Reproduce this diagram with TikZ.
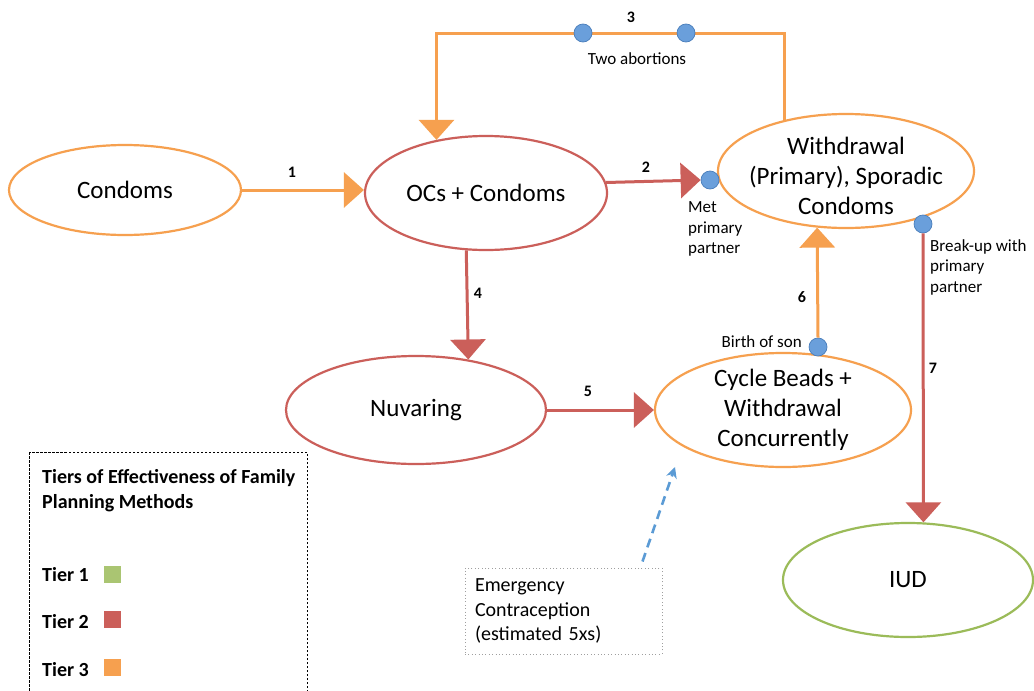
\documentclass[tikz,border=0pt]{standalone}
\usepackage{fontspec}
\setmainfont{Carlito}
\usetikzlibrary{shapes.geometric,arrows.meta,calc}
\definecolor{tor}{HTML}{F6A04F}
\definecolor{tred}{HTML}{CB5F5A}
\definecolor{tgreen}{HTML}{9BBB59}
\definecolor{dotblue}{HTML}{6A9FDB}
\definecolor{dotedge}{HTML}{4A7EBB}
\definecolor{ecblue}{HTML}{5B9BD5}
\begin{document}
\begin{tikzpicture}[x=1pt,y=-1pt,
  meth/.style={ellipse, draw, line width=2.2pt, fill=white, inner sep=0pt},
  mtext/.style={align=center, font=\fontsize{25}{30}\selectfont},
  dotnode/.style={circle, fill=dotblue, draw=dotedge, line width=0.7pt, minimum size=18pt, inner sep=0pt},
  flow/.style={line width=3pt, -{Triangle[width=35pt,length=20pt]}},
  oflow/.style={flow, draw=tor, color=tor},
  rflow/.style={flow, draw=tred, color=tred},
  num/.style={font=\fontsize{16}{19}\selectfont\bfseries, inner sep=0pt},
  small/.style={font=\fontsize{17}{20.5}\selectfont, inner sep=0pt, align=left},
  legtxt/.style={font=\fontsize{20}{25}\selectfont\bfseries, inner sep=0pt, align=left, anchor=west},
  legsq/.style={minimum size=17pt, inner sep=0pt}
]
\fill[white] (0,0) rectangle (1034,691);
\useasboundingbox (0,0) rectangle (1034,691);

% method nodes
\node[meth, draw=tor, minimum width=232pt, minimum height=90pt,
  label={[mtext]center:Condoms}] (condoms) at (125,190) {};
\node[meth, draw=tred, minimum width=242pt, minimum height=114pt,
  label={[mtext]center:OCs + Condoms}] (ocs) at (486,193) {};
\node[meth, draw=tor, minimum width=256pt, minimum height=114pt,
  label={[mtext, yshift=-5pt]center:Withdrawal\\(Primary), Sporadic\\Condoms}] (wd) at (846,171) {};
\node[meth, draw=tred, minimum width=260pt, minimum height=108pt,
  label={[mtext]center:Nuvaring}] (nuv) at (416,410) {};
\node[meth, draw=tor, minimum width=256pt, minimum height=114pt,
  label={[mtext]center:Cycle Beads +\\Withdrawal\\Concurrently}] (cyc) at (783,410) {};
\node[meth, draw=tgreen, minimum width=250pt, minimum height=114pt,
  label={[mtext]center:IUD}] (iud) at (908,580) {};

% event dots
\node[dotnode] (met) at (710,180) {};
\node[dotnode] (birth) at (818,347) {};
\node[dotnode] (breakup) at (923,224) {};
\coordinate (ytop) at (0,33);

% connectors
\draw[oflow] (condoms.east) -- (ocs.west |- condoms.east);
\draw[rflow] (ocs.5.3) -- (met.west);
\draw[oflow] (wd.140.6) -- (wd.140.6 |- ytop) -- (ocs.133.2 |- ytop) -- (ocs.133.2);
\node[dotnode] (ab1) at (583,33) {};
\node[dotnode] (ab2) at (686,33) {};
\draw[rflow] (ocs.251.4) -- (nuv.44.3);
\draw[rflow] (nuv.east) -- (cyc.west);
\draw[oflow] (birth.north) -- (wd.243.3);
\draw[rflow] (breakup.south) -- (iud.75.2);

% numbers and event labels
\node[num] (n1) at (292,172) {1};
\node[num] (n2) at (646,167) {2};
\node[num] (n3) at (631,17) {3};
\node[num] (n4) at (478,293) {4};
\node[num] (n5) at (588,391) {5};
\node[num] (n6) at (802,297) {6};
\node[num] (n7) at (933,368) {7};
\node[small] (tab) at (637,59) {Two abortions};
\node[small, anchor=west] (metl) at (688,229) {Met\\primary\\partner};
\node[small, anchor=west] (brk) at (930,267) {Break-up with\\primary\\partner};
\node[small, anchor=east] (bson) at (802,342) {Birth of son};

% emergency contraception
\node[draw=gray!75, line width=1pt, dash pattern=on 1pt off 2.4pt,
  minimum width=197pt, minimum height=86pt, text width=177pt, inner sep=0pt,
  align=left, font=\fontsize{20}{24.5}\selectfont] (ec) at (563.5,611)
  {Emergency\\Contraception\\(estimated 5xs)};
\coordinate (ectip) at (675,467);
\draw[ecblue, line width=2.6pt, dash pattern=on 9pt off 6pt,
  -{Stealth[length=11pt,width=11pt]}] ($(ec.north east)+(-20,-6)$) -- (ectip);

% legend
\draw[black, line width=0.9pt, dash pattern=on 2.5pt off 1.5pt] (29,452) rectangle (307,705);
\node[legtxt] (lt) at (42,490.5) {Tiers of Effectiveness of Family\\Planning Methods};
\node[legtxt] (t1) at (42,575) {Tier 1};
\node[legtxt] (t2) at (42,622) {Tier 2};
\node[legtxt] (t3) at (42,670) {Tier 3};
\node[legsq, fill=tgreen!85!white] (s1) at (112,574) {};
\node[legsq, fill=tred] (s2) at (112,619) {};
\node[legsq, fill=tor] (s3) at (112,667) {};
\end{tikzpicture}
\end{document}
